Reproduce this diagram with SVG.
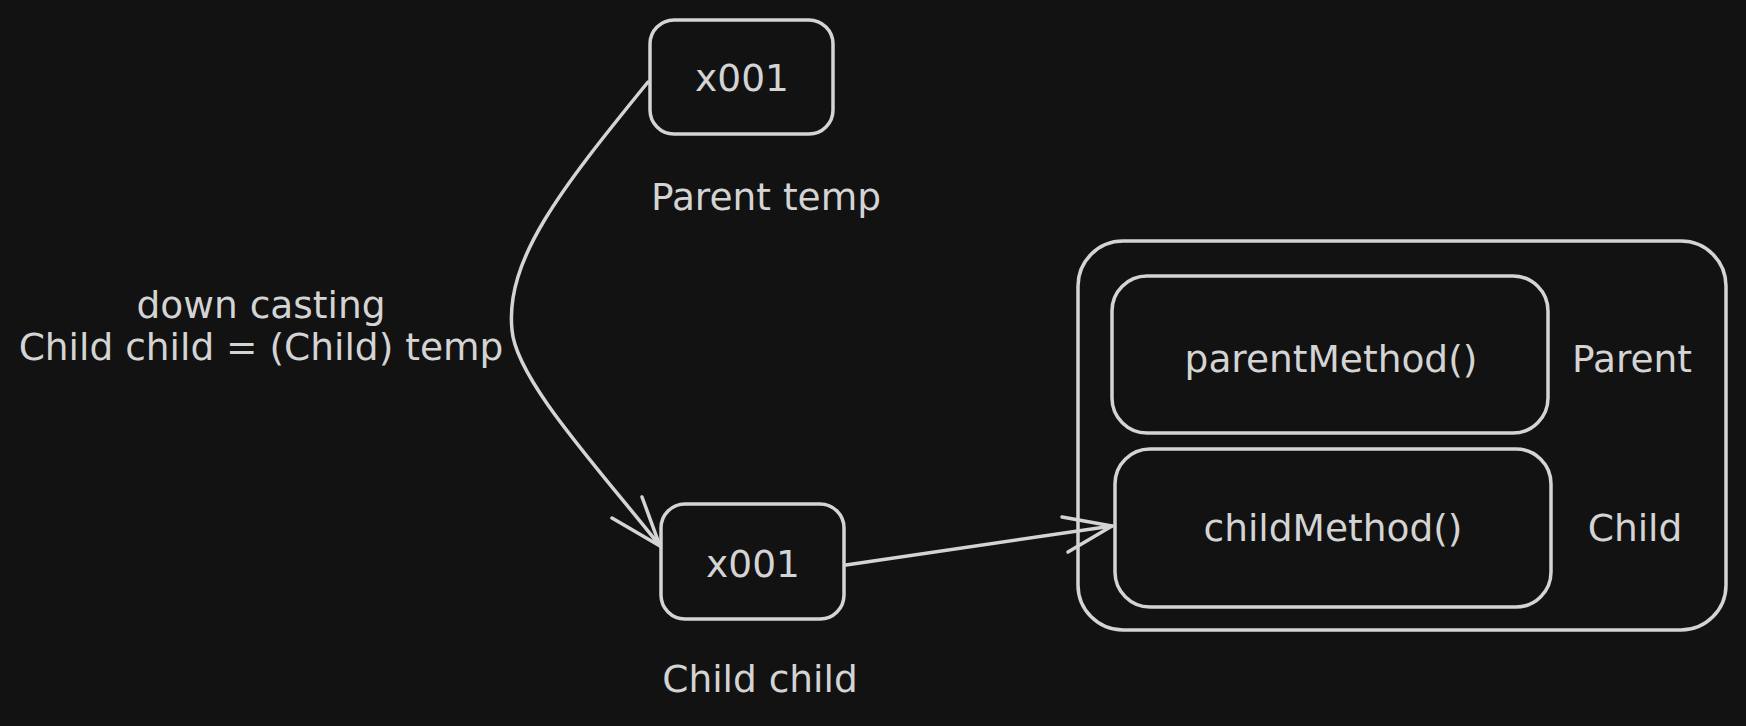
<svg xmlns="http://www.w3.org/2000/svg" width="1746" height="726" viewBox="0 0 1746 726">
<style>
.box{fill:none;stroke:#d4d4d4;stroke-width:3.5;stroke-linejoin:round}
.ln{fill:none;stroke:#d4d4d4;stroke-width:3.5;stroke-linecap:round;stroke-linejoin:round}
.t{font-family:"DejaVu Sans","Noto Sans",sans-serif;font-size:37.5px;fill:#d4d4d4;text-anchor:middle}
</style>
<rect width="1746" height="726" fill="#121212"/>
<g id="connectors">
<path class="ln" d="M648 82 C560 190 505 260 512 330 C516 380 600 470 660 546"/>
<path class="ln" d="M612 518 L660 546 L642 497"/>
<path class="ln" d="M846 565 L1112 526"/>
<path class="ln" d="M1062 517 L1112 526 L1068 552"/>
</g>
<g id="temp-ref">
<rect class="box" x="650" y="20" width="183" height="114" rx="24"/>
<text class="t" x="742" y="91">x001</text>
</g>
<g id="temp-label"><text class="t" x="766" y="210">Parent temp</text></g>
<g id="cast-label">
<text class="t" x="261" y="318">down casting</text>
<text class="t" x="261" y="360">Child child = (Child) temp</text>
</g>
<g id="child-ref">
<rect class="box" x="661" y="504" width="183" height="115" rx="24"/>
<text class="t" x="753" y="577">x001</text>
</g>
<g id="child-label"><text class="t" x="760" y="692">Child child</text></g>
<g id="object">
<rect class="box" x="1078" y="241" width="648" height="389" rx="45"/>
</g>
<g id="parent-part">
<rect class="box" x="1112" y="276" width="436" height="157" rx="35"/>
<text class="t" x="1331" y="372">parentMethod()</text>
<text class="t" x="1632" y="372">Parent</text>
</g>
<g id="child-part">
<rect class="box" x="1115" y="449" width="436" height="158" rx="35"/>
<text class="t" x="1333" y="541">childMethod()</text>
<text class="t" x="1635" y="541">Child</text>
</g>
</svg>
